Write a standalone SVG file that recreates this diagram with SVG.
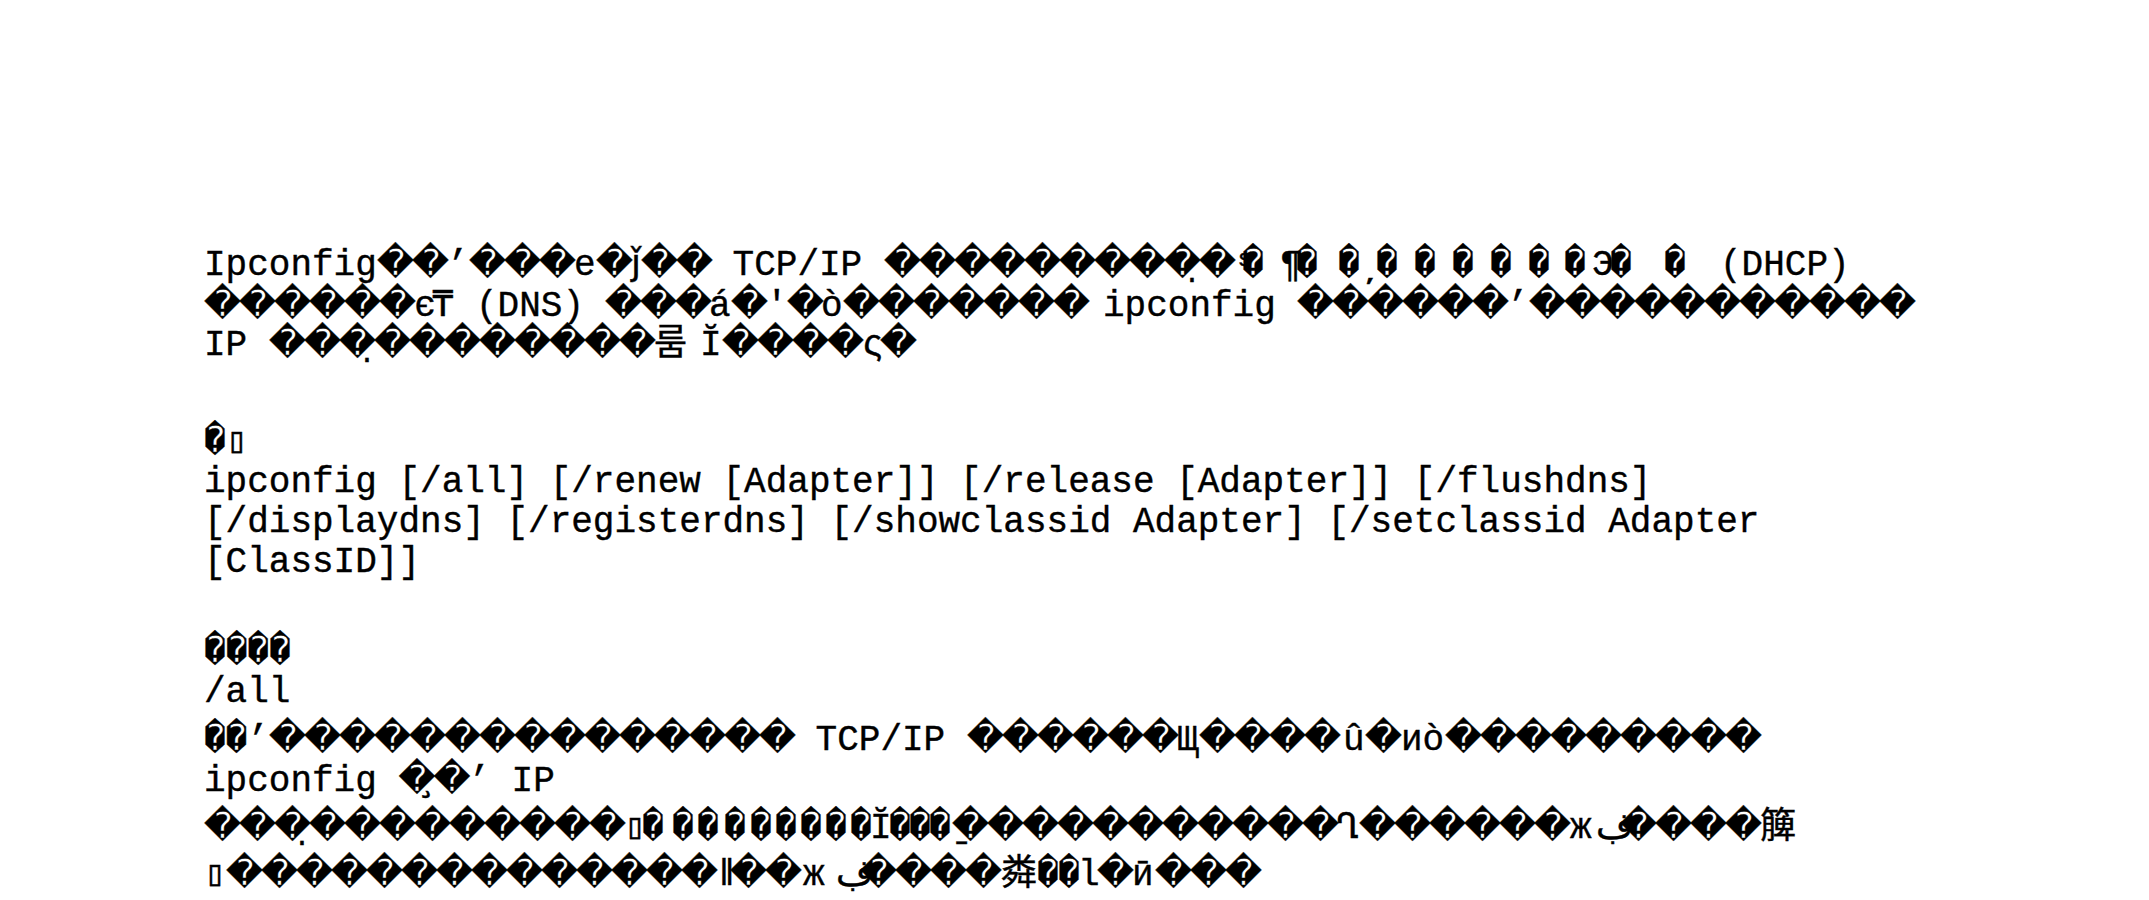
<svg xmlns="http://www.w3.org/2000/svg" width="2149" height="900" viewBox="0 0 2149 900">
<style>
text{font-family:"Liberation Mono","DejaVu Sans Mono",monospace;font-size:36px;fill:#000;stroke:#000;stroke-width:0.4px;white-space:pre}
.w{font-family:"DejaVu Sans",sans-serif}
.n{font-family:"DejaVu Sans Mono",monospace}
.k{font-family:"Noto Sans CJK KR","Noto Sans CJK SC",sans-serif}
.s{font-family:"Noto Sans CJK SC",sans-serif}
</style>
<rect width="2149" height="900" fill="#fff"/>
<g id="intro">
<text y="275"><tspan x="204">Ipconfig</tspan><tspan class="w" x="377 412">��</tspan><tspan x="447">’</tspan><tspan class="w" x="469 504 539">���</tspan><tspan x="574">e</tspan><tspan class="w" x="596">�</tspan><tspan class="w" x="631">ǰ</tspan><tspan class="w" x="641 676">��</tspan><tspan x="732.6">TCP/IP</tspan><tspan class="w" x="884 919 954 989 1024 1059 1094 1129">��������</tspan><tspan class="w" x="1164">&#xFFFD;&#x323;</tspan><tspan class="w" x="1199">�</tspan><tspan x="1234">ˢ</tspan><tspan class="n" x="1242">�</tspan><tspan x="1280">¶</tspan><tspan class="n" x="1296">�</tspan><tspan class="n" x="1338">&#xFFFD;&#x326;</tspan><tspan class="n" x="1376">�</tspan><tspan class="n" x="1414">�</tspan><tspan class="n" x="1452">�</tspan><tspan class="n" x="1490">�</tspan><tspan class="n" x="1528">�</tspan><tspan class="n" x="1564">�</tspan><tspan x="1592">Э</tspan><tspan class="n" x="1610">�</tspan><tspan class="n" x="1664">�</tspan><tspan x="1720">(DHCP)</tspan></text>
<text y="316"><tspan class="w" x="204 239 274 309 344 379">������</tspan><tspan x="414">є</tspan><tspan x="432">₸</tspan><tspan x="476">(DNS)</tspan><tspan class="w" x="605 640 675">���</tspan><tspan x="709">á</tspan><tspan class="w" x="731">�</tspan><tspan x="766">′</tspan><tspan class="w" x="787">�</tspan><tspan x="821">ò</tspan><tspan class="w" x="843 878 913 948 983 1018 1053">�������</tspan><tspan x="1103">ipconfig</tspan><tspan class="w" x="1297 1332 1367 1402 1437 1472">������</tspan><tspan x="1507">’</tspan><tspan class="w" x="1529 1564 1599 1634 1669 1704 1739 1774 1809 1844 1879">�����������</tspan></text>
<text y="355"><tspan x="204">IP</tspan><tspan class="w" x="269 304">��</tspan><tspan class="w" x="339">&#xFFFD;&#x323;</tspan><tspan class="w" x="374 409 444 479 514 549 584 619">��������</tspan><tspan class="k" x="654">룸</tspan><tspan x="700">Ĭ</tspan><tspan class="w" x="722 757 792 827">����</tspan><tspan x="862">ς</tspan><tspan class="w" x="880">�</tspan></text>
</g>
<g id="syntax">
<text x="204" y="452"><tspan class="n">�</tspan>▯</text>
<text x="204" y="492">ipconfig [/all] [/renew [Adapter]] [/release [Adapter]] [/flushdns]</text>
<text x="204" y="532">[/displaydns] [/registerdns] [/showclassid Adapter] [/setclassid Adapter</text>
<text x="204" y="572">[ClassID]]</text>
</g>
<g id="params">
<text x="204" y="662"><tspan class="n">����</tspan></text>
<text x="204" y="702">/all</text>
<text y="750"><tspan class="n" x="204 225.6">��</tspan><tspan x="247.2">’</tspan><tspan class="w" x="269 304 339 374 409 444 479 514 549 584 619 654 689 724 759">���������������</tspan><tspan x="815.6">TCP/IP</tspan><tspan class="w" x="967 1002 1037 1072 1107 1142">������</tspan><tspan x="1177">Щ</tspan><tspan class="w" x="1199 1234 1269 1304">����</tspan><tspan x="1343">û</tspan><tspan class="w" x="1365">�</tspan><tspan x="1401">иò</tspan><tspan class="w" x="1445 1480 1515 1550 1585 1620 1655 1690 1725">���������</tspan></text>
<text y="791"><tspan x="204">ipconfig</tspan><tspan class="w" x="398.4">&#xFFFD;&#x327;</tspan><tspan class="w" x="433.4">�</tspan><tspan x="468.4">’</tspan><tspan x="511.6">IP</tspan></text>
<text y="838"><tspan class="w" x="204 239">��</tspan><tspan class="w" x="274">&#xFFFD;&#x323;</tspan><tspan class="w" x="309 344 379 414 449 484 519 554 589">���������</tspan><tspan x="624">▯</tspan><tspan class="n" x="642 672 697 724 750 775 800 825 850">���������</tspan><tspan x="870">Ĭ</tspan><tspan class="n" x="889 909">��</tspan><tspan class="n" x="929">&#xFFFD;&#x331;</tspan><tspan class="w" x="952 987 1022 1057 1092 1127 1162 1197 1232 1267 1302">�����������</tspan><tspan x="1337">Ղ</tspan><tspan class="w" x="1359 1394 1429 1464 1499 1534">������</tspan><tspan x="1570">ж</tspan><tspan x="1596">ڣ</tspan><tspan class="w" x="1620 1655 1690 1725">����</tspan><tspan class="s" x="1760">簲</tspan></text>
<text y="885"><tspan x="204">▯</tspan><tspan class="w" x="226 261 296 331 366 401 436 471 506 541 576 611 646 681">��������������</tspan><tspan x="716">ǁ</tspan><tspan class="w" x="730 765">��</tspan><tspan x="803">ж</tspan><tspan x="836">ڣ</tspan><tspan class="w" x="860 895 930 965">����</tspan><tspan class="s" x="1001">粦</tspan><tspan class="n" x="1037 1058">��</tspan><tspan x="1078">l</tspan><tspan class="w" x="1097">�</tspan><tspan x="1132">ӣ</tspan><tspan class="w" x="1155 1190 1225">���</tspan></text>
</g>
</svg>
